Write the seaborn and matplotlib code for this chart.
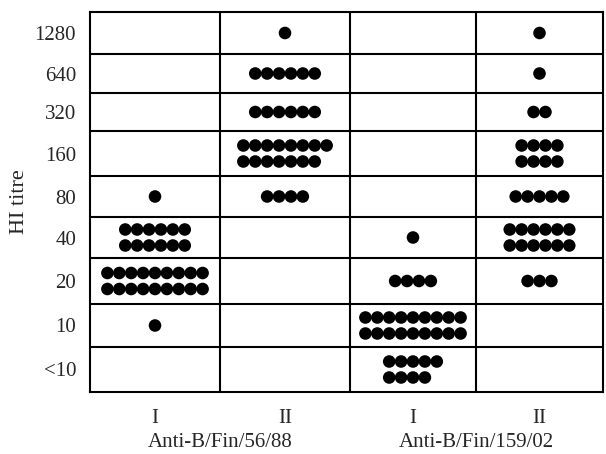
import matplotlib
matplotlib.use("Agg")
import matplotlib.pyplot as plt
import seaborn as sns
import pandas as pd

# ---- data ----
titres = ['<10', '10', '20', '40', '80', '160', '320', '640', '1280']
phases = ['I', 'II', 'I', 'II']
sera = ['Anti-B/Fin/56/88', 'Anti-B/Fin/159/02']

# number of dots per printed row, for each titre, in each column
col_56_I = {'80': [1], '40': [6, 6], '20': [9, 9], '10': [1]}
col_56_II = {'1280': [1], '640': [6], '320': [6], '160': [8, 7], '80': [4]}
col_159_I = {'40': [1], '20': [4], '10': [9, 9], '<10': [5, 4]}
col_159_II = {'1280': [1], '640': [1], '320': [2], '160': [4, 4], '80': [5],
              '40': [6, 6], '20': [3]}
columns = [col_56_I, col_56_II, col_159_I, col_159_II]

# ---- layout (grid cell edges, in axis units) ----
row_edges = [0, 45, 88, 134, 175, 216, 261, 299, 338, 380]
col_edges = [0, 130, 260, 386, 513]
DX = 11.9     # horizontal dot spacing
DY = 8.0      # half vertical distance between two dot rows

row_centers = [(a + b) / 2 for a, b in zip(row_edges[:-1], row_edges[1:])]
col_centers = [(a + b) / 2 for a, b in zip(col_edges[:-1], col_edges[1:])]

rows = []
for ci, col in enumerate(columns):
    for t, counts in col.items():
        yc = row_centers[titres.index(t)]
        first = counts[0]
        x0 = col_centers[ci] - (first - 1) / 2 * DX
        nrow = len(counts)
        for r, n in enumerate(counts):
            yy = yc if nrow == 1 else yc + DY - r * 2 * DY
            for k in range(n):
                rows.append({'x': x0 + k * DX, 'y': yy})
df = pd.DataFrame(rows)

sns.set_style("white")
plt.rcParams['font.family'] = ['Liberation Serif', 'DejaVu Serif']

fig = plt.figure(figsize=(6.06, 4.54), dpi=100)
ax = fig.add_axes([90 / 606, 1 - 392 / 454, 513 / 606, 380 / 454])

sns.scatterplot(data=df, x='x', y='y', ax=ax, color='black', s=82,
                edgecolor='none', legend=False)

ax.set_xlim(col_edges[0], col_edges[-1])
ax.set_ylim(row_edges[0], row_edges[-1])
for b in row_edges[1:-1]:
    ax.axhline(b, color='black', lw=1.5)
for b in col_edges[1:-1]:
    ax.axvline(b, color='black', lw=1.5)
for sp in ax.spines.values():
    sp.set_visible(True)
    sp.set_color('black')
    sp.set_linewidth(1.5)

ax.set_yticks(row_centers)
ax.set_yticklabels(titres, fontsize=15)
ax.set_xticks(col_centers)
ax.set_xticklabels(phases, fontsize=15)
ax.tick_params(length=0)
ax.tick_params(axis='y', pad=10)
ax.tick_params(axis='x', pad=12)
ax.set_xlabel('')
ax.set_ylabel('HI titre', fontsize=16, labelpad=4)

trans = ax.get_xaxis_transform()
for i, s in enumerate(sera):
    ax.text(col_edges[2 * i + 1], -0.145, s, transform=trans, ha='center',
            va='baseline', fontsize=15)

fig.savefig('out.png', dpi=100)
